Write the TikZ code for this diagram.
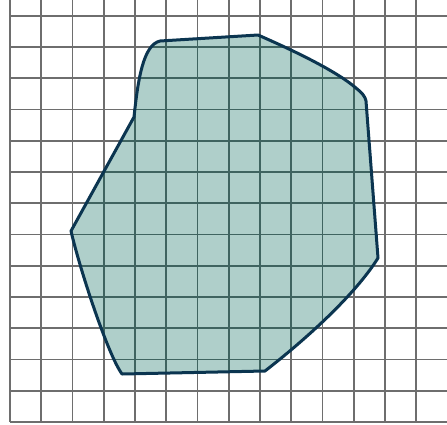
\documentclass[tikz,border=0pt]{standalone}
\usetikzlibrary{calc}
\definecolor{gridgray}{HTML}{6E6E6E}
\definecolor{gridin}{HTML}{3F6460}
\definecolor{shapefill}{HTML}{AFCFCA}
\definecolor{shapeline}{HTML}{0B3550}
\newcommand{\polypath}{(134,117) .. controls (138,80) and (143,45) .. (160,41) -- (258,35) .. controls (290,49) and (335,70) .. (356,88) .. controls (362,93) and (365,96) .. (366,101) -- (378,258) .. controls (355,295) and (305,340) .. (265,371) -- (122,374) .. controls (108,355) and (80,270) .. (71,231) -- cycle}
\tikzset{
  gridline/.style={line width=1.6pt},
  outline/.style={draw=shapeline, line width=3pt, line join=round}
}
\begin{document}
\begin{tikzpicture}[x=1pt,y=-1pt]
\useasboundingbox (0,0) rectangle (447,424);
\fill[white] (0,0) rectangle (447,424);
\fill[shapefill] \polypath;
\foreach \k in {0,...,13} {
  \draw[gridline, gridgray] ({10+31.25*\k},0) -- ({10+31.25*\k},422);
  \draw[gridline, gridgray] (10,{422-31.25*\k}) -- (447,{422-31.25*\k});
}
\begin{scope}
\clip \polypath;
\foreach \k in {0,...,13} {
  \draw[gridline, gridin] ({10+31.25*\k},0) -- ({10+31.25*\k},422);
  \draw[gridline, gridin] (10,{422-31.25*\k}) -- (447,{422-31.25*\k});
}
\end{scope}
\draw[outline] \polypath;
\end{tikzpicture}
\end{document}
